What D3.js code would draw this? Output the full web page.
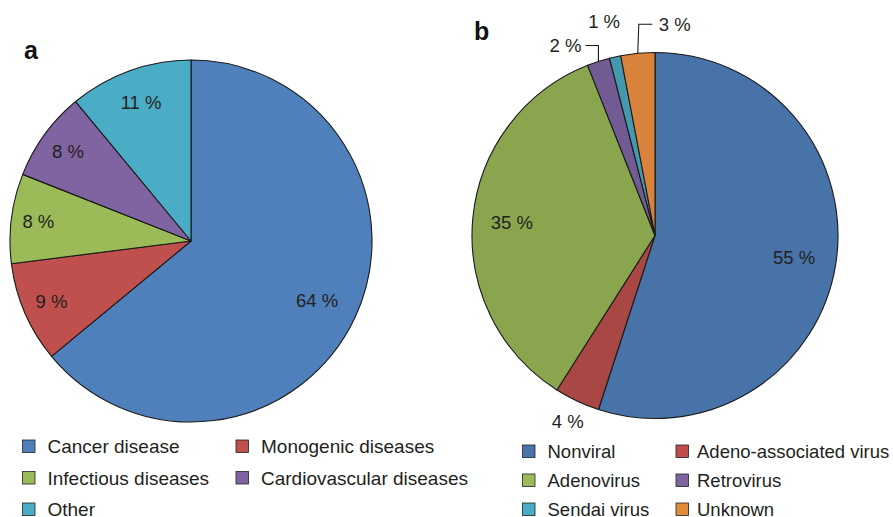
<!DOCTYPE html>
<html>
<head>
<meta charset="utf-8">
<script src="https://cdn.jsdelivr.net/npm/d3@7"></script>
<style>
  html, body { margin: 0; padding: 0; background: #fff; }
  svg { display: block; font-family: "Liberation Sans", Arial, Helvetica, sans-serif; }
</style>
</head>
<body>
<svg id="chart" width="893" height="517"></svg>
<script>
// Panel a: clinical trials by disease area
const diseaseCategories = ["Cancer disease", "Monogenic diseases", "Infectious diseases", "Cardiovascular diseases", "Other"];
const diseaseValues = [64, 9, 8, 8, 11];
const diseaseColors = ["#4f80bb", "#c0504d", "#9bbb59", "#8064a2", "#4bacc6"];

// Panel b: vectors used
const vectorCategories = ["Nonviral", "Adeno-associated virus", "Adenovirus", "Retrovirus", "Sendai virus", "Unknown"];
const vectorValues = [55, 4, 35, 2, 1, 3];
const vectorColors = ["#4873a8", "#a84744", "#89a64f", "#725a93", "#4599af", "#d9823b"];
const vectorLegendColors = ["#4a74aa", "#c04b49", "#9bbb59", "#8064a2", "#4bacc6", "#e08a3c"];

const svg = d3.select("#chart");
const textColor = "#231f20";

function drawPie(cfg) {
  const g = svg.append("g").attr("transform", `translate(${cfg.cx},${cfg.cy})`);
  const pie = d3.pie().sort(null).value(d => d.value);
  const arcs = pie(cfg.categories.map((c, i) => ({ name: c, value: cfg.values[i], color: cfg.colors[i] })));
  const arc = d3.arc().innerRadius(0).outerRadius(cfg.r);

  g.selectAll("path.slice").data(arcs).enter().append("path")
    .attr("class", "slice")
    .attr("d", arc)
    .attr("fill", d => d.data.color)
    .attr("stroke", "#1a1a1a")
    .attr("stroke-width", 1.1)
    .attr("stroke-linejoin", "round");

  const mid = d => (d.startAngle + d.endAngle) / 2;
  const polar = (a, rad) => [Math.sin(a) * rad, -Math.cos(a) * rad];

  arcs.forEach((d, i) => {
    const lab = cfg.labels[i];
    const txt = d.data.value + " %";
    if (lab.type === "inside" || lab.type === "outside") {
      const [x, y] = polar(mid(d), cfg.r * lab.k);
      g.append("text").attr("x", x).attr("y", y).attr("dy", "0.36em")
        .attr("text-anchor", "middle").attr("font-size", 18.5).attr("fill", textColor).text(txt);
    } else {
      // callout: start on the rim at the slice middle, then follow the offsets
      const [x0, y0] = polar(mid(d), cfg.r);
      let pts = [[x0, y0]];
      let cx = x0, cy = y0;
      (lab.path || []).forEach(([dx, dy]) => { cx += dx; cy += dy; pts.push([cx, cy]); });
      if (pts.length > 1) {
        g.append("path").attr("d", d3.line()(pts))
          .attr("fill", "none").attr("stroke", "#1a1a1a").attr("stroke-width", 1.1);
      }
      g.append("text").attr("x", cx + lab.tx).attr("y", cy + lab.ty).attr("dy", "0.36em")
        .attr("text-anchor", lab.anchor).attr("font-size", 18.5).attr("fill", textColor).text(txt);
    }
  });

  // panel letter
  svg.append("text").attr("x", cfg.letterX).attr("y", cfg.letterY)
    .attr("font-size", 25).attr("font-weight", "bold").attr("fill", "#111").text(cfg.letter);

  // legend
  const lg = svg.append("g");
  cfg.categories.forEach((c, i) => {
    const col = i % 2, row = Math.floor(i / 2);
    const x = cfg.legendX + col * cfg.legendColW;
    const y = cfg.legendY + row * cfg.legendRowH;
    lg.append("rect").attr("x", x).attr("y", y - 6.5).attr("width", 12.5).attr("height", 12.5)
      .attr("fill", (cfg.legendColors || cfg.colors)[i]).attr("stroke", "#222").attr("stroke-width", 0.8);
    lg.append("text").attr("x", x + cfg.legendTextGap[col]).attr("y", y).attr("dy", "0.36em")
      .attr("font-size", cfg.legendFont).attr("fill", textColor).text(c);
  });
}

drawPie({
  cx: 191, cy: 241, r: 181,
  categories: diseaseCategories, values: diseaseValues, colors: diseaseColors,
  labels: [
    { type: "inside", k: 0.77 },
    { type: "inside", k: 0.84 },
    { type: "inside", k: 0.85 },
    { type: "inside", k: 0.84 },
    { type: "inside", k: 0.815 }
  ],
  letter: "a", letterX: 24, letterY: 59,
  legendX: 22.5, legendY: 446.5, legendColW: 213.5, legendRowH: 31.5,
  legendTextGap: [25, 25], legendFont: 19
});

drawPie({
  cx: 655, cy: 235.5, r: 183,
  categories: vectorCategories, values: vectorValues, colors: vectorColors,
  legendColors: vectorLegendColors,
  labels: [
    { type: "inside", k: 0.77 },
    { type: "outside", k: 1.12 },
    { type: "inside", k: 0.786 },
    { type: "callout", path: [[0, -16], [-13, 0]], tx: -4, ty: 0, anchor: "end" },
    { type: "callout", path: [], tx: -11, ty: -35.5, anchor: "middle" },
    { type: "callout", path: [[1, -29], [13.5, 0]], tx: 6.5, ty: 0, anchor: "start" }
  ],
  letter: "b", letterX: 474, letterY: 40,
  legendX: 522.5, legendY: 451.5, legendColW: 153.5, legendRowH: 29,
  legendTextGap: [25, 21], legendFont: 18.5
});
</script>
</body>
</html>
